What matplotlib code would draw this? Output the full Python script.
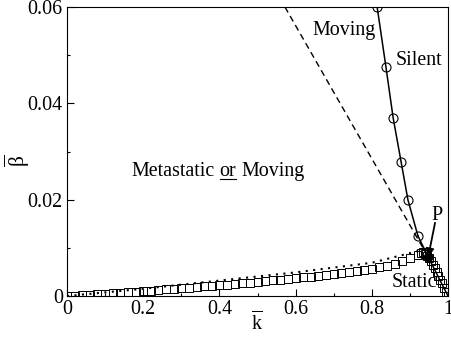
import matplotlib
matplotlib.use("Agg")
import matplotlib.pyplot as plt
from matplotlib.lines import Line2D

plt.rcParams['font.family'] = ['Liberation Serif', 'DejaVu Serif']
plt.rcParams['mathtext.fontset'] = 'custom'
plt.rcParams['mathtext.rm'] = 'Liberation Serif'
plt.rcParams['mathtext.it'] = 'Liberation Serif:italic'

# static branch (squares)
static_k = [0.00, 0.02, 0.04, 0.06, 0.08, 0.10, 0.12, 0.14, 0.16, 0.18,
            0.20, 0.22, 0.24, 0.26, 0.28, 0.30, 0.32, 0.34, 0.36, 0.38,
            0.40, 0.42, 0.44, 0.46, 0.48, 0.50, 0.52, 0.54, 0.56, 0.58,
            0.60, 0.62, 0.64, 0.66, 0.68, 0.70, 0.72, 0.74, 0.76, 0.78,
            0.80, 0.82, 0.84, 0.86, 0.88, 0.90, 0.92, 0.93,
            0.935, 0.94, 0.945, 0.95, 0.955, 0.96, 0.965, 0.97, 0.975,
            0.98, 0.985, 0.99, 0.995, 1.00]
static_b = [0.0000, 0.0001, 0.0002, 0.0003, 0.0004, 0.0005, 0.0006, 0.0007, 0.0008, 0.0009,
            0.0010, 0.0011, 0.0012, 0.00135, 0.0015, 0.0016, 0.0017, 0.00185, 0.0020, 0.0021,
            0.0022, 0.00235, 0.0025, 0.00265, 0.0028, 0.00295, 0.0031, 0.00325, 0.0034, 0.00355,
            0.0037, 0.00385, 0.0040, 0.0042, 0.0044, 0.0046, 0.0048, 0.0050, 0.0052, 0.0054,
            0.0057, 0.0060, 0.0063, 0.0067, 0.0072, 0.0078, 0.0085, 0.0089,
            0.0092, 0.0088, 0.0083, 0.0078, 0.0072, 0.0065, 0.0058, 0.0050, 0.0042,
            0.0034, 0.0026, 0.0017, 0.0009, 0.0000]

# dotted curve
dot_k = [0.0, 0.2, 0.4, 0.6, 0.8, 0.935]
dot_b = [0.0, 0.0015, 0.0032, 0.0049, 0.0069, 0.0096]

# dashed curve
dash_k = [0.572, 0.945]
dash_b = [0.060, 0.0085]

# silent boundary (circles + solid line)
silent_k = [0.814, 0.837, 0.856, 0.877, 0.895, 0.921]
silent_b = [0.0600, 0.0476, 0.0370, 0.0278, 0.0199, 0.0125]
tail_k = [0.921, 0.948, 1.0]
tail_b = [0.0125, 0.0081, 0.0]

# point P
p_k = 0.948
p_b = 0.0081

fs = 14.4

fig = plt.figure(figsize=(4.52, 3.37), dpi=100)
ax = fig.add_axes([67/452, 41/337, 381/452, 289/337])

ax.plot(static_k, static_b, ls='none', marker='s', ms=6.0, mfc='none', mec='k', mew=0.7)
ax.plot(dot_k, dot_b, color='k', lw=1.5, ls=(0, (1, 2.6)))
ax.plot(dash_k, dash_b, color='k', lw=1.0, ls=(0, (4.5, 3)))
ax.plot(silent_k, silent_b, color='k', lw=1.1, marker='o', ms=6.5, mfc='none', mew=0.8)
ax.plot(tail_k, tail_b, color='k', lw=1.1)
ax.plot([p_k], [p_b], marker='o', ms=6, color='k', ls='none')

ax.annotate('', xy=(p_k, p_b), xytext=(0.966, 0.0152),
            arrowprops=dict(arrowstyle='-|>', color='k', lw=1.3, mutation_scale=12, shrinkA=0, shrinkB=0))

ax.text(0.727, 0.0552, 'Moving', fontsize=fs, ha='center', va='center')
ax.text(0.924, 0.0488, 'Silent', fontsize=fs, ha='center', va='center')
ax.text(0.911, 0.0027, 'Static', fontsize=fs, ha='center', va='center')
ax.text(0.971, 0.0168, 'P', fontsize=fs, ha='center', va='center')

t1 = ax.text(0.169, 0.0258, 'Metastatic', fontsize=fs, ha='left', va='center')
t2 = ax.annotate('or', xy=(1, 0), xycoords=t1, xytext=(3.6, 0), textcoords='offset points',
                 fontsize=fs, ha='left', va='bottom')
t3 = ax.annotate('Moving', xy=(1, 0), xycoords=t2, xytext=(3.6, 0), textcoords='offset points',
                 fontsize=fs, ha='left', va='bottom')

ax.set_xlim(0, 1)
ax.set_ylim(0, 0.06)
ax.set_xticks([0, 0.2, 0.4, 0.6, 0.8, 1.0])
ax.set_xticklabels(['0', '0.2', '0.4', '0.6', '0.8', '1'])
ax.set_yticks([0, 0.02, 0.04, 0.06])
ax.set_yticklabels(['0', '0.02', '0.04', '0.06'])
ax.set_xticks([0.1, 0.3, 0.5, 0.7, 0.9], minor=True)
ax.set_yticks([0.01, 0.03, 0.05], minor=True)
ax.tick_params(which='both', direction='in', top=False, right=False, labelsize=fs, width=0.8, pad=3)
ax.tick_params(which='major', length=5)
ax.tick_params(which='minor', length=2.5)
for s in ax.spines.values():
    s.set_linewidth(0.8)

# axis labels placed where the reference has them
ax.text(0.5, -0.093, r'$\overline{\mathrm{k}}$', fontsize=fs, ha='center', va='center',
        transform=ax.transAxes)
ax.text(-0.13, 0.47, r'$\overline{\mathrm{\beta}}$', fontsize=fs + 1, ha='center', va='center',
        rotation=90, transform=ax.transAxes)

# underline the "or"
fig.canvas.draw()
bb = t2.get_window_extent()
inv = fig.transFigure.inverted()
x0, y0 = inv.transform((bb.x0 + 0.5, bb.y0 + 2.5))
x1, _ = inv.transform((bb.x1 - 0.5, bb.y0 + 2.5))
fig.add_artist(Line2D([x0, x1], [y0, y0], color='k', lw=0.8, transform=fig.transFigure))

fig.savefig('out.png', dpi=100)
